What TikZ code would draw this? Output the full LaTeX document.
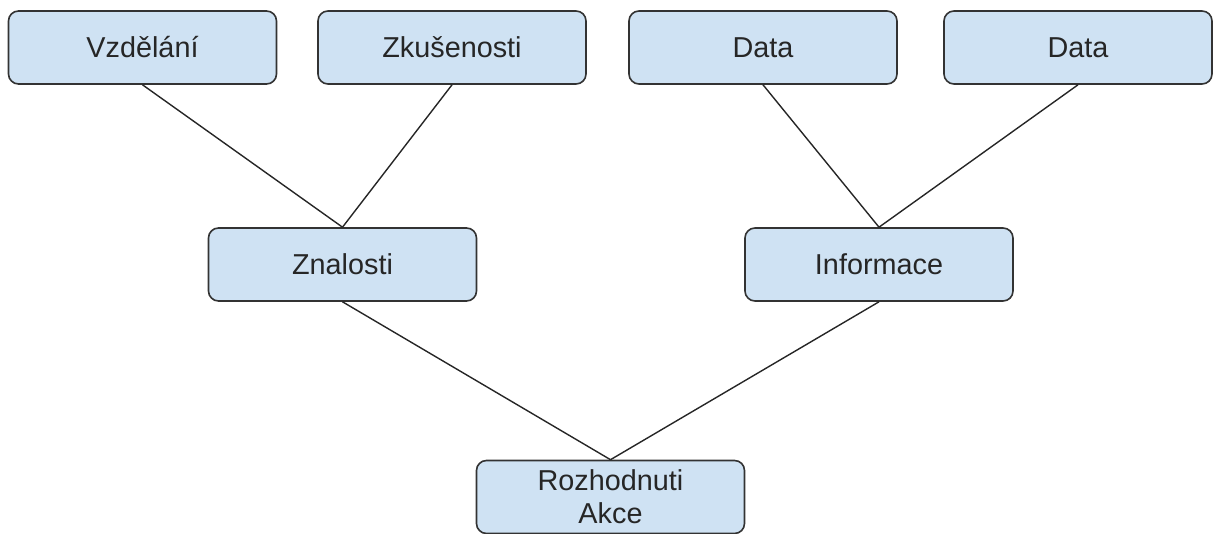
\documentclass[tikz,border=0pt]{standalone}
\usepackage{fontspec}
\setmainfont{Liberation Sans}
\begin{document}
\begin{tikzpicture}[x=1pt,y=-1pt,
  box/.style={draw=black!80, line width=1.6pt, fill=boxblue, rounded corners=10pt,
    minimum width=268pt, minimum height=73pt, inner sep=0pt, align=center,
    font=\fontsize{28.8}{33}\selectfont, text=black!85},
  link/.style={draw=black!85, line width=1.4pt}]
\definecolor{boxblue}{HTML}{CFE2F3}
\useasboundingbox (0,0) rectangle (1213,534);
% top row
\node[box] (vzd) at (142.5,47.5) {Vzdělání};
\node[box] (zku) at (452,47.5) {Zkušenosti};
\node[box] (d1) at (763,47.5) {Data};
\node[box] (d2) at (1078,47.5) {Data};
% middle row
\node[box] (zna) at (342.5,264.5) {Znalosti};
\node[box] (inf) at (879,264.5) {Informace};
% bottom
\node[box] (roz) at (610.5,497) {Rozhodnuti\\Akce};
% connectors
\draw[link] (vzd.south) -- (zna.north);
\draw[link] (zku.south) -- (zna.north);
\draw[link] (d1.south) -- (inf.north);
\draw[link] (d2.south) -- (inf.north);
\draw[link] (zna.south) -- (roz.north);
\draw[link] (inf.south) -- (roz.north);
\end{tikzpicture}
\end{document}
